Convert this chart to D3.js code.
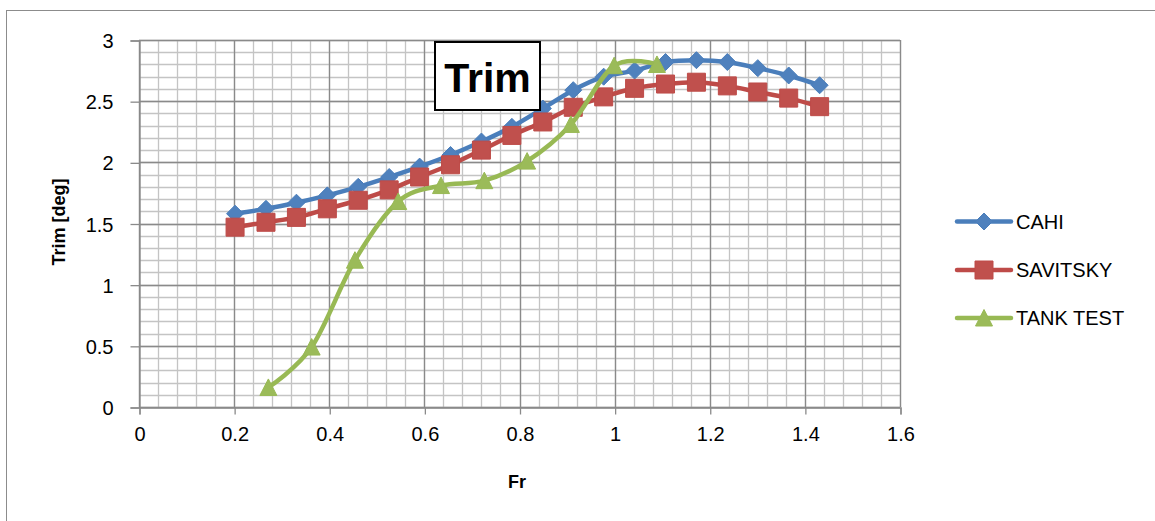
<!DOCTYPE html>
<html>
<head>
<meta charset="utf-8">
<script src="https://cdn.jsdelivr.net/npm/d3@7"></script>
<style>
  html, body { margin: 0; padding: 0; background: #fff; }
  svg { display: block; font-family: "Liberation Sans", Arial, sans-serif; }
</style>
</head>
<body>
<svg id="chart" width="1155" height="521"></svg>
<script>
// ---- data ----
const frModel = [0.202, 0.267, 0.331, 0.396, 0.461, 0.526, 0.59, 0.655, 0.72, 0.784, 0.849, 0.913, 0.977, 1.042, 1.107, 1.172, 1.237, 1.301, 1.366, 1.431];
const cahi = [1.58, 1.62, 1.67, 1.73, 1.80, 1.88, 1.965, 2.06, 2.17, 2.29, 2.44, 2.59, 2.70, 2.75, 2.82, 2.835, 2.82, 2.77, 2.71, 2.63];
const savitsky = [1.47, 1.51, 1.55, 1.62, 1.69, 1.775, 1.88, 1.98, 2.10, 2.22, 2.33, 2.45, 2.535, 2.605, 2.64, 2.655, 2.625, 2.575, 2.525, 2.455];
const frTank = [0.272, 0.363, 0.454, 0.545, 0.635, 0.726, 0.816, 0.908, 0.999, 1.089];
const tankTest = [0.16, 0.49, 1.2, 1.68, 1.81, 1.85, 2.01, 2.31, 2.79, 2.80];
const xTicks = [0, 0.2, 0.4, 0.6, 0.8, 1, 1.2, 1.4, 1.6];
const yTicks = [0, 0.5, 1, 1.5, 2, 2.5, 3];
const seriesNames = ["CAHI", "SAVITSKY", "TANK TEST"];

const series = [
  { name: seriesNames[0], x: frModel, y: cahi, color: "#4A7EBB", fill: "#4F81BD", marker: "diamond" },
  { name: seriesNames[1], x: frModel, y: savitsky, color: "#BE4B48", fill: "#C0504D", marker: "square" },
  { name: seriesNames[2], x: frTank, y: tankTest, color: "#98B954", fill: "#9BBB59", marker: "triangle" }
];

const svg = d3.select("#chart");

// outer chart frame
svg.append("rect").attr("x", 6.5).attr("y", 10.5).attr("width", 1200).attr("height", 600)
  .attr("fill", "none").attr("stroke", "#8c8c8c").attr("stroke-width", 1);

const L = 139, R = 900, T = 40, B = 407;
const x = d3.scaleLinear().domain([0, 1.6]).range([L, R]);
const y = d3.scaleLinear().domain([0, 3]).range([B, T]);

// minor gridlines
const gMinor = svg.append("g").attr("stroke", "#c4c4c4").attr("stroke-width", 1.3);
d3.range(0, 1.6001, 0.04).forEach(v => {
  gMinor.append("line").attr("x1", Math.round(x(v)) + 0.5).attr("x2", Math.round(x(v)) + 0.5)
    .attr("y1", T).attr("y2", B);
});
d3.range(0, 3.0001, 0.1).forEach(v => {
  gMinor.append("line").attr("y1", Math.round(y(v)) + 0.5).attr("y2", Math.round(y(v)) + 0.5)
    .attr("x1", L).attr("x2", R);
});
// major gridlines
const gMajor = svg.append("g").attr("stroke", "#8a8a8a").attr("stroke-width", 1.3);
xTicks.forEach(v => {
  gMajor.append("line").attr("x1", Math.round(x(v)) + 0.5).attr("x2", Math.round(x(v)) + 0.5)
    .attr("y1", T).attr("y2", B);
});
yTicks.forEach(v => {
  gMajor.append("line").attr("y1", Math.round(y(v)) + 0.5).attr("y2", Math.round(y(v)) + 0.5)
    .attr("x1", L).attr("x2", R);
});

// axes
const xAxis = d3.axisBottom(x).tickValues(xTicks).tickSize(7).tickPadding(12).tickFormat(d3.format("~g"));
const yAxis = d3.axisLeft(y).tickValues(yTicks).tickSize(9).tickPadding(17).tickFormat(d3.format("~g"));
const gx = svg.append("g").attr("transform", `translate(0.5,${B + 0.5})`).call(xAxis);
const gy = svg.append("g").attr("transform", `translate(${L + 0.5},0.5)`).call(yAxis);
[gx, gy].forEach(g => {
  g.select(".domain").attr("stroke", "#8a8a8a").attr("stroke-width", 1.3);
  g.selectAll(".tick line").attr("stroke", "#8a8a8a").attr("stroke-width", 1.3);
  g.selectAll(".tick text").attr("fill", "#000").style("font-size", "20px")
    .style("font-family", "'Liberation Sans', Arial, sans-serif");
});
gy.selectAll(".tick text").attr("dy", "0.35em");

// axis titles
svg.append("text").attr("x", 517).attr("y", 488).attr("text-anchor", "middle")
  .style("font-size", "18px").style("font-weight", "bold").text("Fr");
svg.append("text").attr("transform", "translate(65,222) rotate(-90)").attr("text-anchor", "middle")
  .style("font-size", "18px").style("font-weight", "bold").text("Trim [deg]");

// markers
function markerPath(type) {
  if (type === "diamond") return "M0,-8.5L8.5,0L0,8.5L-8.5,0Z";
  if (type === "square") return "M-9,-9H9V9H-9Z";
  return "M0,-8.5L8.5,8L-8.5,8Z";
}

const line = d3.line().curve(d3.curveCatmullRom.alpha(0)).x(d => x(d[0])).y(d => y(d[1]));

series.forEach(s => {
  const pts = s.x.map((v, i) => [v, s.y[i]]);
  const g = svg.append("g");
  g.append("path").attr("d", line(pts)).attr("fill", "none").attr("stroke", s.color)
    .attr("stroke-width", 4.5).attr("stroke-linecap", "round").attr("stroke-linejoin", "round");
  g.selectAll("path.m").data(pts).join("path").attr("class", "m")
    .attr("transform", d => `translate(${x(d[0])},${y(d[1])})`)
    .attr("d", markerPath(s.marker)).attr("fill", s.fill).attr("stroke", s.color).attr("stroke-width", 1);
});

// chart title box
svg.append("rect").attr("x", 435).attr("y", 42).attr("width", 105).attr("height", 68)
  .attr("fill", "#fff").attr("stroke", "#000").attr("stroke-width", 2);
svg.append("text").attr("x", 487.5).attr("y", 91.5).attr("text-anchor", "middle")
  .style("font-size", "41px").style("font-weight", "bold").text("Trim");

// legend
const legY = [221.5, 270, 318];
series.forEach((s, i) => {
  const g = svg.append("g").attr("transform", `translate(0,${legY[i]})`);
  g.append("line").attr("x1", 957).attr("x2", 1011).attr("y1", 0).attr("y2", 0)
    .attr("stroke", s.color).attr("stroke-width", 4.5).attr("stroke-linecap", "round");
  g.append("path").attr("transform", "translate(984,0)").attr("d", markerPath(s.marker))
    .attr("fill", s.fill).attr("stroke", s.color).attr("stroke-width", 1);
  g.append("text").attr("x", 1016).attr("y", 0).attr("dy", "0.36em")
    .style("font-size", "20px").text(s.name);
});
</script>
</body>
</html>
